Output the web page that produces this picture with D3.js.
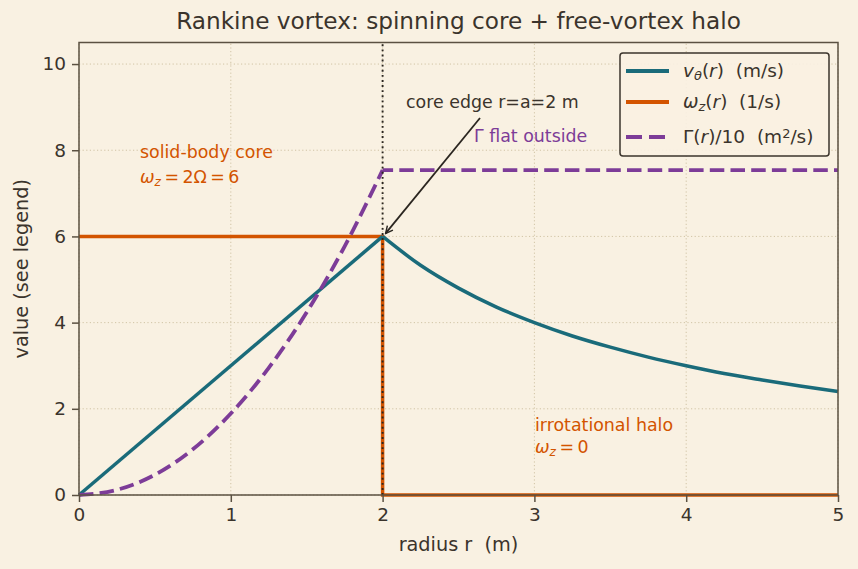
<!DOCTYPE html>
<html>
<head>
<meta charset="utf-8">
<script src="https://cdn.jsdelivr.net/npm/d3@7"></script>
<style>
  body { margin: 0; background: #f9f1e2; }
  text { font-family: "DejaVu Sans", sans-serif; white-space: pre; }
</style>
</head>
<body>
<div id="chart"></div>
<script>
// velocity, core (solid-body) and halo (free vortex)
const vCoreR = [0, 2];
const vCore = [0, 6];
const vHaloR = [2, 2.25, 2.5, 2.75, 3, 3.25, 3.5, 3.75, 4, 4.25, 4.5, 4.75, 5];
const vHalo = [6, 5.33, 4.8, 4.36, 4.0, 3.69, 3.43, 3.2, 3.0, 2.82, 2.67, 2.53, 2.4];
// vorticity step
const wR = [0, 2, 2, 5];
const wVal = [6, 6, 0, 0];
// circulation / 10
const gCoreR = [0, 0.25, 0.5, 0.75, 1, 1.25, 1.5, 1.75, 2];
const gCore = [0, 0.12, 0.47, 1.06, 1.89, 2.95, 4.24, 5.77, 7.54];
const gFlatR = [2, 5];
const gFlat = [7.54, 7.54];

const xTicks = [0, 1, 2, 3, 4, 5];
const yTicks = [0, 2, 4, 6, 8, 10];

const W = 858, H = 569;
const m = {left: 79, right: 20, top: 42.5, bottom: 74};

const svg = d3.select("#chart").append("svg")
    .attr("width", W).attr("height", H);
svg.append("rect").attr("width", W).attr("height", H).attr("fill", "#f9f1e2");

const x = d3.scaleLinear().domain([0, 5]).range([m.left, W - m.right]);
const y = d3.scaleLinear().domain([0, 10.5]).range([H - m.bottom, m.top]);

const ink = "#3b342c";
const spine = "#5b5142";
const teal = "#1a6b7a", orange = "#d35400", purple = "#7d3c98";
const lw = 3.5;

// grid
const grid = svg.append("g").attr("stroke", "#cdbf9f").attr("stroke-width", 0.9)
    .attr("stroke-dasharray", "1.2,2.4");
xTicks.forEach(t => grid.append("line").attr("x1", x(t)).attr("x2", x(t))
    .attr("y1", y.range()[0]).attr("y2", y.range()[1]));
yTicks.forEach(t => grid.append("line").attr("y1", y(t)).attr("y2", y(t))
    .attr("x1", x.range()[0]).attr("x2", x.range()[1]));

const zip = (a, b) => a.map((d, i) => [d, b[i]]);
const lineLin = d3.line().x(d => x(d[0])).y(d => y(d[1]));
const lineSmooth = d3.line().x(d => x(d[0])).y(d => y(d[1])).curve(d3.curveMonotoneX);

const plot = svg.append("g");
plot.append("path").attr("d", lineLin(zip(wR, wVal)))
    .attr("fill", "none").attr("stroke", orange).attr("stroke-width", lw);
plot.append("path").attr("d", lineLin(zip(vCoreR, vCore)))
    .attr("fill", "none").attr("stroke", teal).attr("stroke-width", lw);
plot.append("path").attr("d", lineSmooth(zip(vHaloR, vHalo)))
    .attr("fill", "none").attr("stroke", teal).attr("stroke-width", lw);
plot.append("path").attr("d", lineSmooth(zip(gCoreR, gCore)))
    .attr("fill", "none").attr("stroke", purple).attr("stroke-width", lw + 0.3)
    .attr("stroke-dasharray", "14.5,6.2");
plot.append("path").attr("d", lineLin(zip(gFlatR, gFlat)))
    .attr("fill", "none").attr("stroke", purple).attr("stroke-width", lw + 0.3)
    .attr("stroke-dasharray", "14.5,6.2").attr("stroke-dashoffset", 4);

// core edge marker
svg.append("line").attr("x1", x(2)).attr("x2", x(2))
    .attr("y1", y.range()[0]).attr("y2", y.range()[1])
    .attr("stroke", "#2b2620").attr("stroke-width", 1.9).attr("stroke-dasharray", "1.9,3.2");

// axes
const xAxis = svg.append("g").attr("transform", `translate(0,${y(0)})`)
    .call(d3.axisBottom(x).tickValues(xTicks).tickFormat(d3.format("d"))
      .tickSize(7).tickPadding(6));
const yAxis = svg.append("g").attr("transform", `translate(${x(0)},0)`)
    .call(d3.axisLeft(y).tickValues(yTicks).tickFormat(d3.format("d"))
      .tickSize(7).tickPadding(6));
[xAxis, yAxis].forEach(g => {
  g.select(".domain").remove();
  g.selectAll("line").attr("stroke", spine).attr("stroke-width", 1.5);
  g.selectAll("text").attr("fill", ink).style("font-size", "18.5px")
      .style("font-family", "DejaVu Sans, sans-serif");
});
svg.append("rect").attr("x", x.range()[0]).attr("y", y.range()[1])
    .attr("width", x.range()[1] - x.range()[0]).attr("height", y.range()[0] - y.range()[1])
    .attr("fill", "none").attr("stroke", spine).attr("stroke-width", 1.5);

// titles
svg.append("text").attr("x", (x.range()[0] + x.range()[1]) / 2).attr("y", 29)
    .attr("text-anchor", "middle").attr("fill", ink).style("font-size", "23.2px")
    .text("Rankine vortex: spinning core + free-vortex halo");
svg.append("text").attr("x", (x.range()[0] + x.range()[1]) / 2).attr("y", 551)
    .attr("text-anchor", "middle").attr("fill", ink).style("font-size", "19.3px")
    .text("radius r  (m)");
svg.append("text").attr("transform", `translate(28,${(y.range()[0] + y.range()[1]) / 2}) rotate(-90)`)
    .attr("text-anchor", "middle").attr("fill", ink).style("font-size", "19.3px")
    .text("value (see legend)");

// annotations
function mathLabel(g, parts) {
  parts.forEach(p => {
    const ts = g.append("tspan").text(p.t);
    if (p.i) ts.style("font-style", "italic");
    if (p.sub) ts.attr("baseline-shift", "-22%").style("font-size", "70%");
    if (p.sup) ts.attr("baseline-shift", "38%").style("font-size", "70%");
  });
}
const fs = "17.4px";
svg.append("text").attr("x", 140).attr("y", 158).attr("fill", orange)
    .style("font-size", fs).text("solid-body core");
mathLabel(svg.append("text").attr("x", 140).attr("y", 183).attr("fill", orange)
    .style("font-size", fs),
    [{t: "ω", i: 1}, {t: "z", i: 1, sub: 1}, {t: "\u2009=\u20092Ω\u2009=\u20096"}]);
svg.append("text").attr("x", 535).attr("y", 431).attr("fill", orange)
    .style("font-size", fs).text("irrotational halo");
mathLabel(svg.append("text").attr("x", 535).attr("y", 453).attr("fill", orange)
    .style("font-size", fs),
    [{t: "ω", i: 1}, {t: "z", i: 1, sub: 1}, {t: "\u2009=\u20090"}]);
svg.append("text").attr("x", 406).attr("y", 108).attr("fill", ink)
    .style("font-size", fs).text("core edge r=a=2 m");
svg.append("text").attr("x", 474).attr("y", 142).attr("fill", purple)
    .style("font-size", fs).text("Γ flat outside");

svg.append("defs").append("marker").attr("id", "arr")
    .attr("viewBox", "0 0 10 10").attr("refX", 9).attr("refY", 5)
    .attr("markerWidth", 9).attr("markerHeight", 9).attr("markerUnits", "userSpaceOnUse")
    .attr("orient", "auto")
    .append("path").attr("d", "M1,1 L9,5 L1,9").attr("fill", "none")
    .attr("stroke", "#2b2620").attr("stroke-width", 1.6);
svg.append("line").attr("x1", 480).attr("y1", 118).attr("x2", x(2) + 3).attr("y2", y(6) - 3)
    .attr("stroke", "#2b2620").attr("stroke-width", 1.8).attr("marker-end", "url(#arr)");

// legend
const lg = svg.append("g").attr("transform", "translate(620,53)");
lg.append("rect").attr("width", 209).attr("height", 103).attr("rx", 3)
    .attr("fill", "#f9f1e2").attr("fill-opacity", 0.9)
    .attr("stroke", ink).attr("stroke-width", 1.5);
const items = [
  {c: teal, dash: null, parts: [{t: "v", i: 1}, {t: "θ", i: 1, sub: 1}, {t: "("}, {t: "r", i: 1}, {t: ")  (m/s)"}]},
  {c: orange, dash: null, parts: [{t: "ω", i: 1}, {t: "z", i: 1, sub: 1}, {t: "("}, {t: "r", i: 1}, {t: ")  (1/s)"}]},
  {c: purple, dash: "16,7", parts: [{t: "Γ("}, {t: "r", i: 1}, {t: ")/10  (m"}, {t: "2", sup: 1}, {t: "/s)"}]}
];
const rowY = [18, 49, 84];
items.forEach((it, i) => {
  const yy = rowY[i];
  lg.append("line").attr("x1", 6).attr("x2", 49).attr("y1", yy).attr("y2", yy)
      .attr("stroke", it.c).attr("stroke-width", lw + 0.3).attr("stroke-dasharray", it.dash);
  mathLabel(lg.append("text").attr("x", 63).attr("y", yy + 6).attr("fill", ink)
      .style("font-size", "18.5px"), it.parts);
});
</script>
</body>
</html>
